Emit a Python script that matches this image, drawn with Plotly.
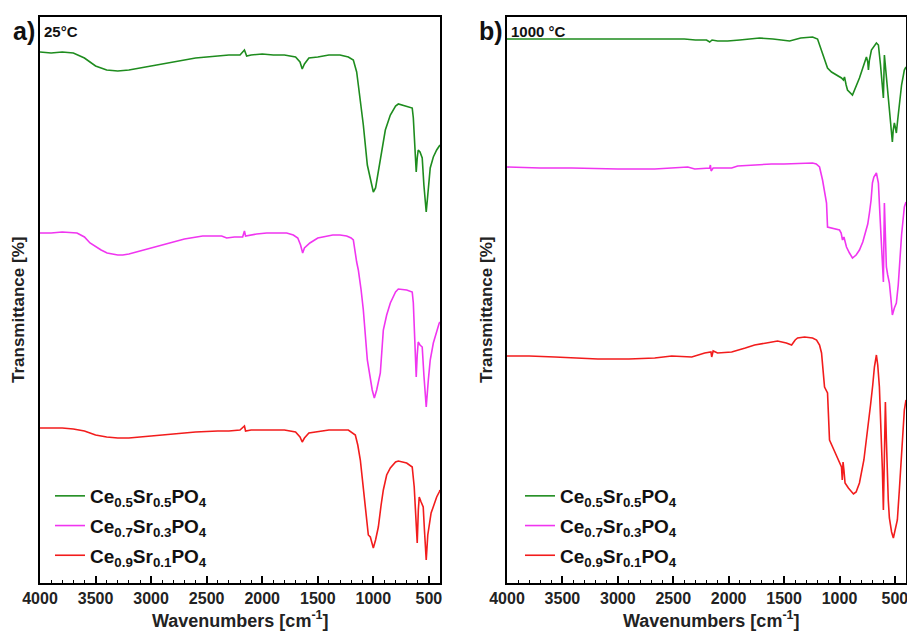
import plotly.graph_objects as go

# ---------------- data ----------------
labels = ["Ce<sub>0.5</sub>Sr<sub>0.5</sub>PO<sub>4</sub>",
          "Ce<sub>0.7</sub>Sr<sub>0.3</sub>PO<sub>4</sub>",
          "Ce<sub>0.9</sub>Sr<sub>0.1</sub>PO<sub>4</sub>"]
colors = ["#1e8c1e", "#f035f0", "#f21c1c"]

# Panel a) 25 °C  (offset-stacked transmittance, arbitrary units)
wn_a_green = [4000, 3900, 3800, 3700, 3600, 3500, 3400, 3300, 3200, 3000, 2800, 2600, 2400, 2300, 2200, 2160, 2140, 2100,
              2000, 1900, 1800, 1700, 1660, 1640, 1620, 1580, 1500, 1400, 1300, 1225, 1180, 1150, 1135, 1110, 1090, 1054,
              1027, 1000, 980, 955, 937, 910, 892, 847, 800, 775, 700, 650, 640, 623, 614, 605, 596, 580, 560, 545, 524,
              510, 488, 460, 430, 400]
t_a_green = [53.1, 53.0, 53.1, 53.0, 52.5, 51.7, 51.3, 51.2, 51.3, 51.7, 52.1, 52.5, 52.7, 52.8, 52.8, 53.3, 52.7, 52.8,
             52.9, 52.8, 52.8, 52.6, 52.1, 51.4, 51.9, 52.5, 52.6, 52.8, 52.8, 52.6, 52.3, 51.1, 49.8, 47.8, 45.8, 41.8,
             40.3, 39.1, 39.5, 41.1, 42.3, 44.3, 45.3, 46.8, 47.7, 47.9, 47.7, 47.5, 46.5, 43.3, 41.1, 42.5, 43.3, 43.1,
             42.5, 39.8, 37.1, 38.8, 41.5, 42.6, 43.3, 43.8]

wn_a_mag = [4000, 3900, 3800, 3700, 3667, 3600, 3550, 3450, 3396, 3300, 3255, 3200, 3102, 3000, 2806, 2700, 2536, 2365,
            2320, 2250, 2176, 2160, 2150, 2113, 2050, 1960, 1860, 1780, 1720, 1680, 1655, 1636, 1620, 1571, 1500, 1365,
            1300, 1240, 1200, 1180, 1150, 1135, 1110, 1090, 1054, 1027, 1010, 991, 970, 937, 910, 880, 847, 800, 775,
            700, 650, 640, 625, 614, 605, 596, 580, 560, 545, 524, 505, 488, 460, 430, 407, 400]
t_a_mag = [35.0, 35.0, 35.1, 35.0, 35.0, 34.6, 34.0, 33.3, 33.0, 32.8, 32.8, 32.9, 33.2, 33.5, 34.1, 34.4, 34.7, 34.7,
           34.5, 34.6, 34.6, 35.2, 34.7, 34.8, 34.9, 35.0, 35.0, 35.0, 34.8, 34.5, 33.8, 33.0, 33.5, 34.0, 34.5, 34.8,
           34.8, 34.7, 34.5, 34.3, 32.1, 31.3, 29.3, 27.3, 22.3, 20.3, 19.3, 18.5, 19.3, 21.0, 25.3, 26.8, 28.0, 29.1,
           29.4, 29.3, 29.1, 28.0, 24.3, 20.6, 22.8, 24.1, 23.8, 23.6, 20.8, 17.6, 20.3, 22.3, 24.0, 25.3, 26.0, 26.1]

wn_a_red = [4000, 3900, 3800, 3700, 3600, 3500, 3400, 3300, 3200, 3000, 2800, 2600, 2400, 2300, 2200, 2160, 2150, 2100,
            2000, 1900, 1800, 1700, 1660, 1640, 1620, 1580, 1500, 1400, 1300, 1225, 1162, 1140, 1117, 1090, 1072, 1045,
            1027, 1000, 980, 955, 930, 910, 880, 847, 800, 775, 700, 650, 632, 618, 605, 595, 587, 570, 551, 540, 524,
            510, 497, 480, 461, 430, 407, 400]
t_a_red = [15.5, 15.5, 15.5, 15.4, 15.2, 14.8, 14.6, 14.5, 14.5, 14.7, 14.9, 15.1, 15.2, 15.2, 15.3, 15.7, 15.2, 15.3,
           15.3, 15.3, 15.3, 15.1, 14.6, 14.1, 14.5, 15.0, 15.1, 15.3, 15.3, 15.3, 14.8, 13.8, 12.3, 9.3, 7.3, 4.8,
           4.6, 3.5, 4.3, 5.6, 7.8, 9.3, 10.8, 11.5, 12.1, 12.2, 12.0, 11.6, 9.6, 6.3, 4.0, 7.3, 8.6, 8.1, 7.6, 5.3,
           2.3, 4.8, 6.0, 7.0, 7.6, 8.6, 9.1, 9.3]

# Panel b) 1000 °C
wn_b_green = [4000, 3800, 3600, 3400, 3200, 3000, 2800, 2586, 2400, 2300, 2200, 2171, 2150, 2100, 2009, 1900, 1721, 1600,
              1450, 1350, 1243, 1198, 1153, 1108, 1072, 1020, 982, 965, 955, 940, 928, 883, 850, 820, 790, 757, 745,
              739, 730, 712, 667, 649, 630, 613, 604, 595, 586, 577, 560, 541, 523, 515, 505, 495, 487, 475, 460, 440,
              415, 400]
t_b_green = [54.4, 54.4, 54.4, 54.4, 54.4, 54.4, 54.4, 54.4, 54.4, 54.3, 54.3, 54.1, 54.3, 54.2, 54.2, 54.3, 54.5, 54.4,
             54.2, 54.5, 54.6, 54.4, 53.0, 51.5, 51.1, 50.8, 50.5, 50.3, 50.6, 49.8, 49.3, 48.8, 49.6, 50.5, 51.5, 52.6,
             52.1, 51.3, 52.3, 53.3, 54.0, 53.8, 51.8, 49.6, 48.5, 52.8, 51.8, 50.3, 48.3, 46.3, 44.1, 45.3, 46.0, 45.5,
             45.0, 46.3, 48.0, 49.8, 51.3, 51.6]

wn_b_mag = [4000, 3700, 3414, 3000, 2667, 2500, 2369, 2306, 2200, 2171, 2165, 2158, 2140, 1973, 1919, 1800, 1613, 1500,
            1315, 1243, 1210, 1180, 1153, 1135, 1117, 1108, 1050, 1000, 985, 973, 960, 950, 937, 910, 883, 850, 820,
            790, 757, 745, 730, 715, 703, 690, 667, 649, 635, 622, 604, 595, 586, 577, 565, 550, 535, 523, 505, 487,
            470, 460, 440, 415, 400]
t_b_mag = [41.6, 41.5, 41.5, 41.4, 41.4, 41.5, 41.6, 41.4, 41.5, 41.5, 41.8, 41.2, 41.5, 41.5, 41.7, 41.8, 41.9, 41.9,
           42.0, 42.0, 41.9, 41.6, 40.3, 39.3, 38.0, 35.6, 35.4, 35.3, 35.0, 34.3, 34.6, 34.0, 33.6, 33.0, 32.5, 32.8,
           33.3, 34.1, 35.3, 35.9, 37.0, 38.3, 40.0, 40.6, 41.0, 40.0, 36.8, 33.6, 30.1, 38.0, 34.8, 31.6, 30.8, 30.0,
           28.3, 26.8, 27.5, 28.0, 29.8, 31.6, 34.8, 37.6, 38.1]

wn_b_red = [4000, 3800, 3568, 3400, 3180, 2900, 2667, 2514, 2333, 2216, 2160, 2153, 2140, 2100, 1973, 1850, 1766, 1659,
            1559, 1480, 1432, 1400, 1378, 1315, 1243, 1207, 1180, 1162, 1135, 1108, 1090, 1050, 1018, 982, 975, 968,
            960, 950, 920, 874, 850, 820, 780, 748, 720, 700, 685, 667, 655, 640, 625, 613, 604, 595, 586, 577, 568,
            560, 550, 530, 514, 500, 478, 460, 433, 415, 400]
t_b_red = [22.7, 22.7, 22.6, 22.5, 22.4, 22.4, 22.5, 22.7, 22.6, 23.0, 23.1, 22.6, 23.2, 23.0, 23.1, 23.5, 23.8, 24.0,
           24.2, 24.0, 23.8, 24.3, 24.5, 24.6, 24.5, 24.3, 23.8, 23.0, 19.6, 19.0, 14.3, 13.3, 12.5, 11.6, 10.3, 12.1,
           11.3, 10.0, 9.5, 8.9, 9.1, 10.0, 12.3, 15.0, 17.8, 19.8, 21.6, 22.8, 21.8, 19.6, 15.3, 11.3, 7.3, 13.3,
           18.1, 14.3, 10.3, 8.3, 6.5, 5.1, 4.5, 5.1, 6.3, 9.3, 14.6, 17.3, 18.3]

x_tickvals = [4000, 3500, 3000, 2500, 2000, 1500, 1000, 500]
x_ticktext = ["4000", "3500", "3000", "2500", "2000", "1500", "1000", "500"]
panel_letters = ["a)", "b)"]
panel_temps = ["25°C", "1000 °C"]

# ---------------- figure ----------------
W, H = 907, 631
FONT = "Liberation Sans, Arial, sans-serif"

fig = go.Figure()

panels = [
    ([wn_a_green, wn_a_mag, wn_a_red], [t_a_green, t_a_mag, t_a_red], "x", "y", "legend", "a"),
    ([wn_b_green, wn_b_mag, wn_b_red], [t_b_green, t_b_mag, t_b_red], "x2", "y2", "legend2", "b"),
]
for xs, ys, xa, ya, lg, tag in panels:
    for i in range(3):
        fig.add_trace(go.Scatter(
            x=xs[i], y=ys[i], mode="lines", xaxis=xa, yaxis=ya,
            line=dict(color=colors[i], width=1.6),
            name="<b>" + labels[i] + "</b>", legend=lg, showlegend=True,
            legendgroup=tag + str(i),
        ))

def px(xp):
    return xp / W

def py(yp):
    return 1 - yp / H

x_dom_a = [px(40), px(440)]
x_dom_b = [px(507), px(906)]
y_dom = [py(583), py(17)]

xaxis_common = dict(
    range=[4000, 400], showline=True, linecolor="black", linewidth=1.6, mirror=True,
    ticks="inside", ticklen=7, tickwidth=1.5, tickcolor="black",
    tickvals=x_tickvals, ticktext=x_ticktext, automargin=False, ticklabeloverflow="allow",
    tickfont=dict(family=FONT, size=16, color="#222", weight="bold"),
    minor=dict(ticks="inside", dtick=100, ticklen=3.5, tickwidth=1.3, tickcolor="black"),
    showgrid=False, zeroline=False,
)
yaxis_common = dict(
    range=[0, 56.6], showline=True, linecolor="black", linewidth=1.6, mirror=True, automargin=False,
    ticks="", showticklabels=False, showgrid=False, zeroline=False, domain=y_dom,
)

legend_common = dict(xanchor="left", yanchor="top", bgcolor="rgba(0,0,0,0)",
                     font=dict(family=FONT, size=19, color="#111"), itemwidth=30, tracegroupgap=2)

fig.update_layout(
    width=W, height=H, margin=dict(l=0, r=0, t=0, b=0, autoexpand=False),
    paper_bgcolor="white", plot_bgcolor="white",
    font=dict(family=FONT, color="#111"),
    xaxis=dict(xaxis_common, domain=x_dom_a, anchor="y"),
    yaxis=dict(yaxis_common, anchor="x"),
    xaxis2=dict(xaxis_common, domain=x_dom_b, anchor="y2"),
    yaxis2=dict(yaxis_common, anchor="x2"),
    legend=dict(legend_common, x=px(50), y=py(477)),
    legend2=dict(legend_common, x=px(520), y=py(477)),
    showlegend=True,
)

ann = []
for k, (xl, xt) in enumerate([(24, 42), (491, 509)]):
    ann.append(dict(text="<b>" + panel_letters[k] + "</b>", x=px(xl), y=py(31), xref="paper", yref="paper",
                    xanchor="center", yanchor="middle", showarrow=False,
                    font=dict(family=FONT, size=25, color="#111")))
    ann.append(dict(text="<b>" + panel_temps[k] + "</b>", x=px(xt), y=py(31), xref="paper", yref="paper",
                    xanchor="left", yanchor="middle", showarrow=False,
                    font=dict(family=FONT, size=15, color="#111")))
for xc in [240, 711]:
    ann.append(dict(text="<b>Wavenumbers [cm<sup>-1</sup>]</b>", x=px(xc), y=py(619), xref="paper", yref="paper",
                    xanchor="center", yanchor="middle", showarrow=False,
                    font=dict(family=FONT, size=18, color="#222")))
for xc in [18, 486]:
    ann.append(dict(text="<b>Transmittance [%]</b>", x=px(xc), y=py(310), xref="paper", yref="paper",
                    xanchor="center", yanchor="middle", showarrow=False, textangle=-90,
                    font=dict(family=FONT, size=17, color="#222")))
fig.update_layout(annotations=ann)

fig.write_html("out.html", config={"responsive": False, "displayModeBar": False},
               post_script="document.body.style.margin='0';document.body.style.overflow='hidden';")
